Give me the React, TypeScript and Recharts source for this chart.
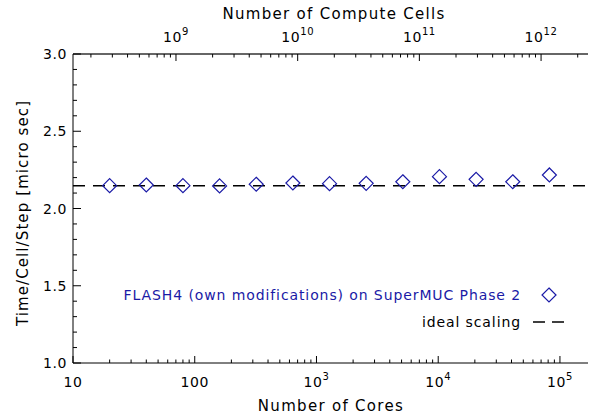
import React from 'react';
import { ComposedChart, Scatter, XAxis, YAxis, ReferenceLine, Legend } from 'recharts';

const cores = [20, 40, 80, 160, 320, 640, 1280, 2560, 5120, 10240, 20480, 40960, 81920];
const timePerCellStep = [2.148, 2.152, 2.148, 2.146, 2.157, 2.165, 2.161, 2.163, 2.173, 2.206, 2.189, 2.173, 2.217];
const idealScaling = 2.148;
const cellsPerCore = 1.425e7;

const coreMajorTicks = [10, 100, 1000, 10000, 100000];
const cellMajorTicks = [1e9, 1e10, 1e11, 1e12];
const yMajorTicks = [1.0, 1.5, 2.0, 2.5, 3.0];
const yMinorTicks = [1.1, 1.2, 1.3, 1.4, 1.6, 1.7, 1.8, 1.9, 2.1, 2.2, 2.3, 2.4, 2.6, 2.7, 2.8, 2.9];
const minorMultipliers = [2, 3, 4, 5, 6, 7, 8, 9];

const coreDomain = [10, 1.7e5];
const cellDomain = [1.425e8, 2.43e12];

const seriesName = 'FLASH4 (own modifications) on SuperMUC Phase 2';
const idealName = 'ideal scaling';
const xTitle = 'Number of Cores';
const x2Title = 'Number of Compute Cells';
const yTitle = 'Time/Cell/Step [micro sec]';

const BLUE = '#1a1aa6';
const FONT = 'DejaVu Sans';

const withMinors = (majors: number[], lo: number, hi: number) => {
  const out: number[] = [];
  const first = Math.floor(Math.log10(lo));
  const last = Math.ceil(Math.log10(hi));
  for (let e = first; e <= last; e++) {
    const base = Math.pow(10, e);
    [1, ...minorMultipliers].forEach((m) => {
      const v = m * base;
      if (v >= lo * 0.999 && v <= hi * 1.001) out.push(v);
    });
  }
  majors.forEach((m) => { if (!out.some((v) => Math.abs(v / m - 1) < 1e-6)) out.push(m); });
  return out.sort((a, b) => a - b);
};

const coreTicks = withMinors(coreMajorTicks, coreDomain[0], coreDomain[1]);
const cellTicks = withMinors(cellMajorTicks, cellDomain[0], cellDomain[1]);
const yTicks = [...yMajorTicks, ...yMinorTicks].sort((a, b) => a - b);

const data = cores.map((c, i) => ({ cores: c, cells: c * cellsPerCore, time: timePerCellStep[i] }));

const isMajorLog = (v: number) => {
  const l = Math.log10(v);
  return Math.abs(l - Math.round(l)) < 1e-6;
};

const LogLabel = ({ x, y, v }: { x: number; y: number; v: number }) => {
  const e = Math.round(Math.log10(v));
  if (e <= 2) {
    return (
      <text x={x} y={y} textAnchor="middle" fontFamily={FONT} fontSize={14} letterSpacing={0.6} fill="#000">
        {String(v)}
      </text>
    );
  }
  return (
    <text x={x} y={y} textAnchor="middle" fontFamily={FONT} fontSize={14} letterSpacing={0.6} fill="#000">
      10
      <tspan dy={-7} fontSize={10}>{String(e)}</tspan>
    </text>
  );
};

const BottomTick = (props: any) => {
  const { x, y, payload } = props;
  const v = payload.value;
  const major = isMajorLog(v);
  return (
    <g>
      <line x1={x} x2={x} y1={y} y2={y - (major ? 7 : 3.5)} stroke="#000" strokeWidth={1} />
      {major && <LogLabel x={x} y={y + 24} v={v} />}
    </g>
  );
};

const TopTick = (props: any) => {
  const { x, y, payload } = props;
  const v = payload.value;
  const major = isMajorLog(v);
  return (
    <g>
      <line x1={x} x2={x} y1={y} y2={y + (major ? 7 : 3.5)} stroke="#000" strokeWidth={1} />
      {major && <LogLabel x={x} y={y - 12} v={v} />}
    </g>
  );
};

const LeftTick = (props: any) => {
  const { x, y, payload } = props;
  const v = payload.value;
  const major = yMajorTicks.some((m) => Math.abs(m - v) < 1e-6);
  return (
    <g>
      <line x1={x} x2={x + (major ? 8 : 4)} y1={y} y2={y} stroke="#000" strokeWidth={1} />
      {major && (
        <text x={x - 6} y={y + 5} textAnchor="end" fontFamily={FONT} fontSize={14} letterSpacing={0.6} fill="#000">
          {v.toFixed(1)}
        </text>
      )}
    </g>
  );
};

const Diamond = (props: any) => {
  const { cx, cy } = props;
  if (cx == null || cy == null) return null;
  const r = 7;
  return (
    <polygon
      points={`${cx},${cy - r} ${cx + r},${cy} ${cx},${cy + r} ${cx - r},${cy}`}
      fill="none"
      stroke={BLUE}
      strokeWidth={1.2}
    />
  );
};

const Hidden = () => <g />;

const LegendContent = () => (
  <svg width={590} height={415} style={{ position: 'absolute', left: 0, top: 0, overflow: 'visible' }}>
    <text x={521} y={300} textAnchor="end" fontFamily={FONT} fontSize={14} letterSpacing={0.9} fill={BLUE}>
      {seriesName}
    </text>
    <polygon points="549,288 556,295 549,302 542,295" fill="none" stroke={BLUE} strokeWidth={1.2} />
    <text x={521} y={327} textAnchor="end" fontFamily={FONT} fontSize={14} letterSpacing={0.9} fill="#000">
      {idealName}
    </text>
    <line x1={533} x2={565} y1={322} y2={322} stroke="#000" strokeWidth={1.5} strokeDasharray="12 7" />
  </svg>
);

export default function App() {
  return (
    <div style={{ position: 'absolute', left: 0, top: 0, width: 590, height: 415, background: '#fff' }}>
      <ComposedChart
        width={590}
        height={415}
        data={data}
        margin={{ top: 0, right: 2, bottom: 0, left: 0 }}
        style={{ fontFamily: FONT }}
      >
        <XAxis
          xAxisId="bottom"
          dataKey="cores"
          type="number"
          scale="log"
          domain={coreDomain}
          ticks={coreTicks}
          allowDataOverflow
          orientation="bottom"
          height={52}
          tickSize={0}
          tickMargin={0}
          tickLine={false}
          tick={<BottomTick />}
          interval={0}
          axisLine={{ stroke: '#000', strokeWidth: 1 }}
          label={(p: any) => (
            <text x={331} y={411} textAnchor="middle" fontFamily={FONT} fontSize={15} letterSpacing={1.3} fill="#000">
              {xTitle}
            </text>
          )}
        />
        <XAxis
          xAxisId="top"
          dataKey="cells"
          type="number"
          scale="log"
          domain={cellDomain}
          ticks={cellTicks}
          allowDataOverflow
          orientation="top"
          height={54}
          tickSize={0}
          tickMargin={0}
          tickLine={false}
          tick={<TopTick />}
          interval={0}
          axisLine={{ stroke: '#333', strokeWidth: 1.5 }}
          label={(p: any) => (
            <text x={334} y={19} textAnchor="middle" fontFamily={FONT} fontSize={15} letterSpacing={1.3} fill="#000">
              {x2Title}
            </text>
          )}
        />
        <YAxis
          yAxisId="left"
          type="number"
          domain={[1, 3]}
          ticks={yTicks}
          interval={0}
          width={73}
          tickSize={0}
          tickMargin={0}
          tickLine={false}
          tick={<LeftTick />}
          allowDataOverflow
          axisLine={{ stroke: '#000', strokeWidth: 1 }}
          label={(p: any) => (
            <text
              x={28}
              y={213}
              transform="rotate(-90 28 213)"
              textAnchor="middle"
              fontFamily={FONT}
              fontSize={15}
              letterSpacing={1.1}
              fill="#000"
            >
              {yTitle}
            </text>
          )}
        />
        <ReferenceLine
          xAxisId="bottom"
          yAxisId="left"
          y={idealScaling}
          stroke="#000"
          strokeWidth={1.5}
          strokeDasharray="12 8"
        />
        <Scatter
          xAxisId="top"
          yAxisId="left"
          dataKey="time"
          data={data}
          shape={<Hidden />}
          legendType="none"
          isAnimationActive={false}
        />
        <Scatter
          xAxisId="bottom"
          yAxisId="left"
          name={seriesName}
          dataKey="time"
          data={data}
          shape={<Diamond />}
          isAnimationActive={false}
        />
        <Legend
          layout="horizontal"
          verticalAlign="middle"
          align="center"
          content={<LegendContent />}
          wrapperStyle={{ position: 'absolute', left: 0, top: 0, width: 590, height: 415, pointerEvents: 'none' }}
        />
      </ComposedChart>
    </div>
  );
}
